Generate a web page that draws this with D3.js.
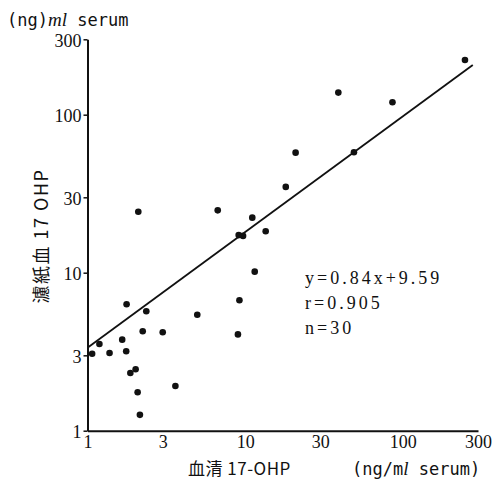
<!DOCTYPE html>
<html>
<head>
<meta charset="utf-8">
<script src="https://cdn.jsdelivr.net/npm/d3@7"></script>
<style>
  body { margin: 0; background: #fff; }
  svg { display: block; }
  .tick text { font-family: "Liberation Serif", serif; font-size: 18px; fill: #111; }
</style>
</head>
<body>
<div class="visHolder"></div>
<script>
const w = 493, h = 479;

// 血清 17-OHP (x) vs 濾紙血 17 OHP (y), ng/ml serum
const serumX = [1.07, 1.19, 1.38, 1.66, 1.76, 1.77, 2.36, 2.24, 1.87, 2.02,
                2.08, 2.15, 3.0, 3.61, 4.97, 2.1, 6.7, 11.1, 9.1, 9.7,
                13.5, 11.5, 9.2, 9.0, 18.1, 20.9, 39, 49, 86, 248];
const filterY = [3.07, 3.54, 3.10, 3.77, 3.18, 6.31, 5.7, 4.26, 2.32, 2.45,
                 1.75, 1.26, 4.2, 1.92, 5.42, 24.3, 24.8, 22.3, 17.3, 17.1,
                 18.3, 10.15, 6.69, 4.07, 34.9, 57.5, 138, 57.8, 120, 222];
// regression line as drawn, end points
const fitX = [1, 278];
const fitY = [3.35, 206];
const xTicks = [1, 3, 10, 30, 100, 300];
const yTicks = [1, 3, 10, 30, 100, 300];
const stats = ['y=0.84x+9.59', 'r=0.905', 'n=30'];

const svg = d3.select('.visHolder')
  .append('svg')
  .attr('width', w)
  .attr('height', h);

svg.append('rect').attr('width', w).attr('height', h).attr('fill', '#fff');

const xScale = d3.scaleLog().domain([1, 300]).range([87.5, 478]);
const yScale = d3.scaleLog().domain([1, 300]).range([430.7, 39.3]);

const xAxis = d3.axisBottom(xScale)
  .tickValues(xTicks)
  .tickFormat(d3.format('d'))
  .tickSize(0)
  .tickSizeOuter(0)
  .tickPadding(5);
const yAxis = d3.axisLeft(yScale)
  .tickValues(yTicks)
  .tickFormat(d3.format('d'))
  .tickSize(4)
  .tickSizeOuter(0)
  .tickPadding(2);

const gx = svg.append('g')
  .attr('id', 'x-axis')
  .attr('transform', `translate(0, ${yScale(1)})`)
  .call(xAxis);
const gy = svg.append('g')
  .attr('id', 'y-axis')
  .attr('transform', `translate(${xScale(1)}, 0)`)
  .call(yAxis);

[gx, gy].forEach(g => {
  g.select('.domain').attr('stroke', '#111').attr('stroke-width', 2);
  g.selectAll('.tick line').attr('stroke', '#111').attr('stroke-width', 1.5);
});
gy.selectAll('.tick text').attr('dy', '0.4em');

// fitted line
const line = d3.line()
  .x(d => xScale(d[0]))
  .y(d => yScale(d[1]));
svg.append('path')
  .datum(d3.zip(fitX, fitY))
  .attr('d', line)
  .attr('fill', 'none')
  .attr('stroke', '#111')
  .attr('stroke-width', 1.8);

svg.selectAll('circle')
  .data(d3.zip(serumX, filterY))
  .enter()
  .append('circle')
  .attr('cx', d => xScale(d[0]))
  .attr('cy', d => yScale(d[1]))
  .attr('r', 3.3)
  .attr('fill', '#111');

// stats text
svg.append('g')
  .selectAll('text')
  .data(stats)
  .enter()
  .append('text')
  .attr('x', 305)
  .attr('y', (d, i) => 284 + i * 25)
  .attr('font-family', '"Liberation Serif", serif')
  .attr('font-size', 18)
  .attr('letter-spacing', 3)
  .attr('fill', '#111')
  .text(d => d);

// unit at top
const unit = svg.append('text')
  .attr('x', 7)
  .attr('y', 26)
  .attr('font-family', '"DejaVu Sans Mono", monospace')
  .attr('font-size', 17)
  .attr('fill', '#111');
unit.append('tspan').text('(ng)');
unit.append('tspan').attr('font-family', '"Liberation Serif", serif').attr('font-style', 'italic').attr('font-size', 19).text('ml');
unit.append('tspan').text(' serum');

// y title
svg.append('text')
  .attr('transform', 'translate(48, 236) rotate(-90)')
  .attr('text-anchor', 'middle')
  .attr('font-family', '"Noto Sans CJK JP", "Liberation Serif", serif')
  .attr('font-size', 18)
  .attr('letter-spacing', 1.5)
  .attr('fill', '#111')
  .text('濾紙血 17 OHP');

// x title
svg.append('text')
  .attr('x', 188)
  .attr('y', 475)
  .attr('font-family', '"Noto Sans CJK JP", "Liberation Serif", serif')
  .attr('font-size', 17)
  .attr('letter-spacing', 0.5)
  .attr('fill', '#111')
  .text('血清 17-OHP');

const xunit = svg.append('text')
  .attr('x', 352)
  .attr('y', 475)
  .attr('font-family', '"DejaVu Sans Mono", monospace')
  .attr('font-size', 17)
  .attr('fill', '#111');
xunit.append('tspan').text('(ng/m');
xunit.append('tspan').attr('font-family', '"Liberation Serif", serif').attr('font-style', 'italic').attr('font-size', 19).text('l');
xunit.append('tspan').text(' serum)');
</script>
</body>
</html>
